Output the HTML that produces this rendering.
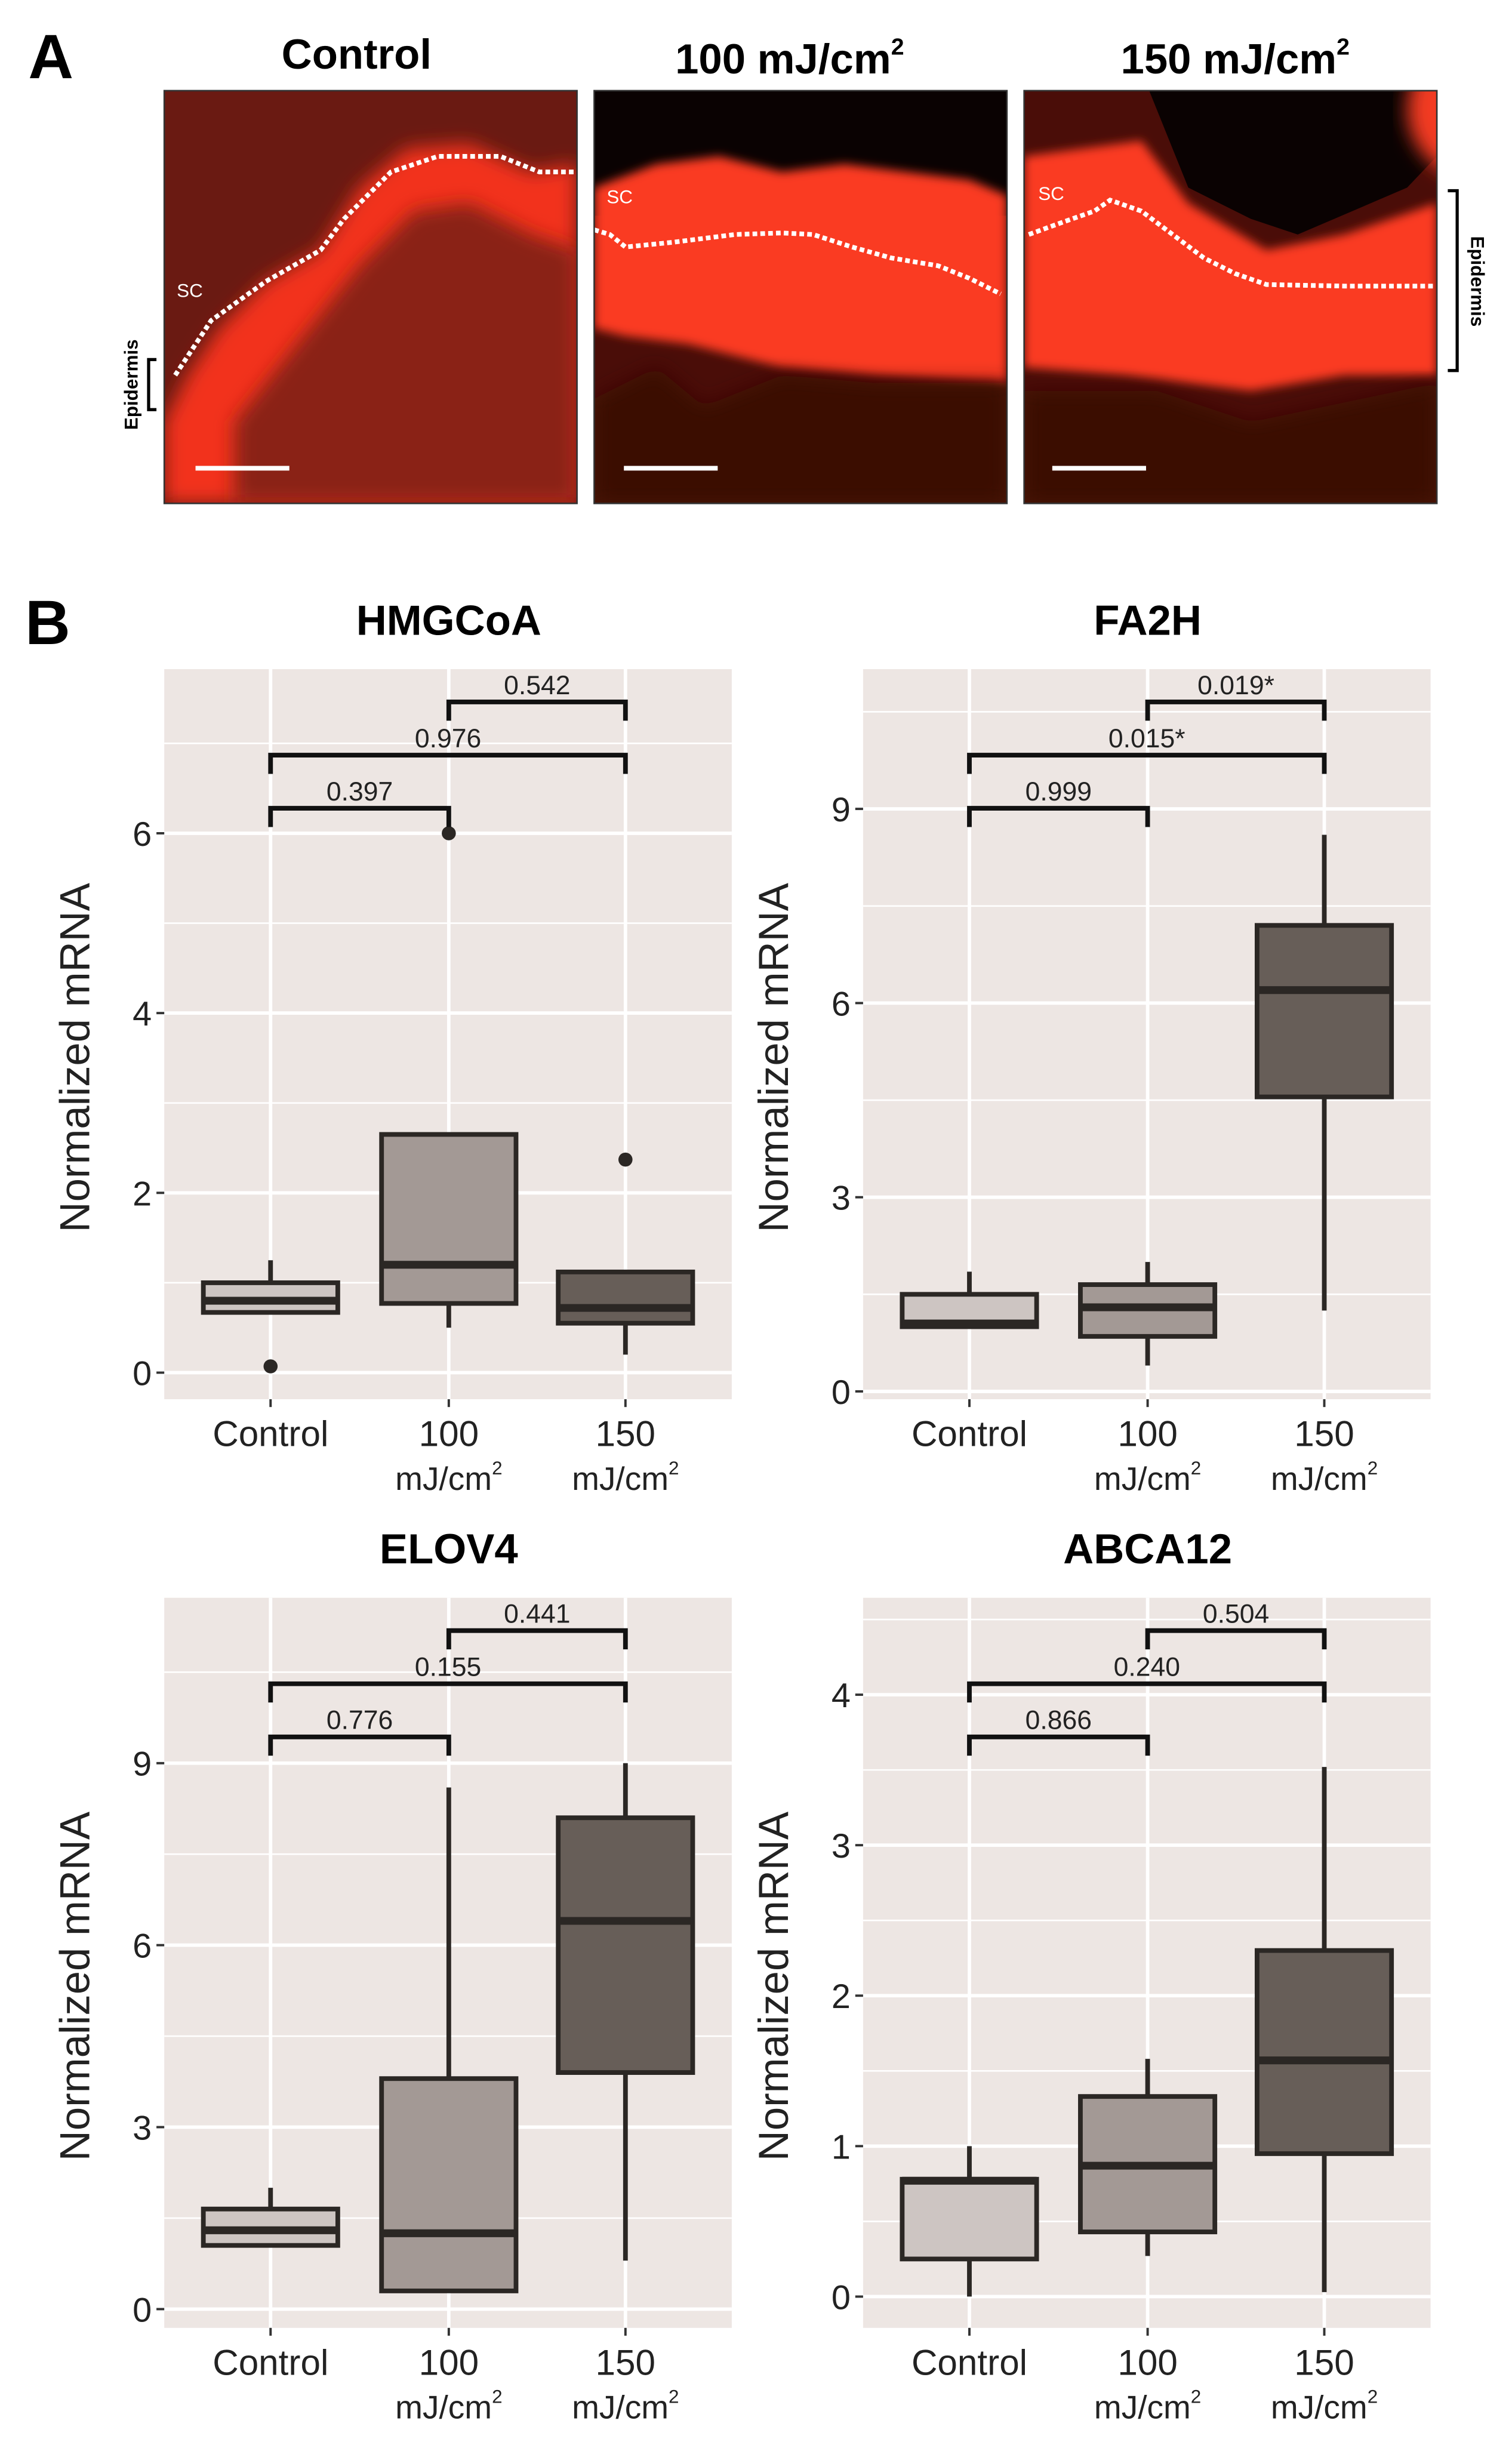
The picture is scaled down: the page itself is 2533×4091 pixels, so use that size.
<!DOCTYPE html>
<html><head><meta charset="utf-8">
<style>
html,body{margin:0;padding:0;background:#fff;}
svg{display:block;}
text{font-family:"Liberation Sans",Arial,sans-serif;}
</style></head>
<body>
<svg id="fig" xmlns="http://www.w3.org/2000/svg" width="2533" height="4091" viewBox="0 0 967 1562">
<defs>
<filter id="blur3"><feGaussianBlur stdDeviation="3"/></filter>
<filter id="blur6"><feGaussianBlur stdDeviation="6"/></filter>
<clipPath id="c1"><rect x="105" y="58" width="264" height="264"/></clipPath>
<clipPath id="c2"><rect x="380" y="58" width="264" height="264"/></clipPath>
<clipPath id="c3"><rect x="655" y="58" width="264" height="264"/></clipPath>
</defs>
<g id="panelA">
<text x="18" y="50" font-size="40" font-weight="bold">A</text>
<text x="228" y="44" font-size="27" font-weight="bold" text-anchor="middle">Control</text>
<text x="505" y="47" font-size="27" font-weight="bold" text-anchor="middle">100 mJ/cm<tspan font-size="15" dy="-12">2</tspan></text>
<text x="790" y="47" font-size="27" font-weight="bold" text-anchor="middle">150 mJ/cm<tspan font-size="15" dy="-12">2</tspan></text>

<g clip-path="url(#c1)">
<rect x="105" y="58" width="264" height="264" fill="#6a1a12"/>
<path d="M105,270 L120,240 L140,210 L170,180 L205,160 L230,120 L260,95 L300,92 L340,110 L369,105 L369,322 L105,322Z" fill="#f2331c" filter="url(#blur6)"/>
<path d="M150,270 L190,220 L230,170 L265,135 L300,130 L340,150 L369,160 L369,322 L150,322Z" fill="#8a2418" filter="url(#blur6)"/>
<path d="M112,240 L135,205 L170,180 L205,160 L220,140 L250,110 L280,100 L320,100 L345,110 L369,110" fill="none" stroke="#fff" stroke-width="3" stroke-dasharray="3,2"/>
<text x="113" y="190" font-size="12" fill="#fff">SC</text>
<rect x="125" y="298" width="60" height="3" fill="#fff"/>
</g>
<rect x="105" y="58" width="264" height="264" fill="none" stroke="#333" stroke-width="1"/>

<g clip-path="url(#c2)">
<rect x="380" y="58" width="264" height="264" fill="#4a0d08"/>
<rect x="380" y="58" width="264" height="80" fill="#0a0202"/>
<path d="M380,120 L420,105 L460,100 L500,110 L540,105 L580,110 L620,115 L644,125 L644,245 L560,240 L500,235 L440,220 L400,215 L380,210Z" fill="#fa3a22" filter="url(#blur3)"/>
<path d="M380,255 L420,235 L450,260 L500,240 L560,245 L644,245 L644,322 L380,322Z" fill="#3a0a06" filter="url(#blur6)"/>
<path d="M380,147 L390,150 L400,158 L430,155 L470,150 L500,149 L520,150 L545,158 L570,165 L600,170 L620,178 L640,188" fill="none" stroke="#fff" stroke-width="3" stroke-dasharray="3,2"/>
<text x="388" y="130" font-size="12" fill="#fff">SC</text>
<rect x="399" y="298" width="60" height="3" fill="#fff"/>
</g>
<rect x="380" y="58" width="264" height="264" fill="none" stroke="#333" stroke-width="1"/>

<g clip-path="url(#c3)">
<rect x="655" y="58" width="264" height="264" fill="#4a0d08"/>
<path d="M655,58 L735,58 L760,120 L800,140 L830,150 L900,120 L919,100 L919,58Z" fill="#0a0202"/>
<circle cx="945" cy="70" r="45" fill="#f23a22" filter="url(#blur6)"/>
<path d="M655,100 L730,90 L760,130 L810,160 L860,150 L919,130 L919,240 L860,240 L800,250 L720,240 L655,235Z" fill="#fa3a22" filter="url(#blur3)"/>
<path d="M655,250 L740,250 L800,270 L919,245 L919,322 L655,322Z" fill="#3a0a06" filter="url(#blur6)"/>
<path d="M658,150 L680,142 L700,135 L710,128 L730,135 L750,150 L770,165 L790,175 L810,182 L860,183 L917,183" fill="none" stroke="#fff" stroke-width="3" stroke-dasharray="3,2"/>
<text x="664" y="128" font-size="12" fill="#fff">SC</text>
<rect x="673" y="298" width="60" height="3" fill="#fff"/>
</g>
<rect x="655" y="58" width="264" height="264" fill="none" stroke="#333" stroke-width="1"/>

<g>
<path d="M100,230 L95,230 L95,262 L100,262" fill="none" stroke="#000" stroke-width="2"/>
<text x="88" y="246" font-size="12" font-weight="bold" text-anchor="middle" transform="rotate(-90 88 246)">Epidermis</text>
</g>
<g>
<path d="M926,122 L932,122 L932,237 L926,237" fill="none" stroke="#000" stroke-width="2"/>
<text x="941" y="180" font-size="12" font-weight="bold" text-anchor="middle" transform="rotate(90 941 180)">Epidermis</text>
</g>
</g>

<text x="16" y="412" font-size="40" font-weight="bold">B</text>
<g id="charts"></g>
</svg>
<script>
const categories = ["Control", "100", "150"];
const groupFills = ["#cdc5c2", "#a39995", "#675e58"];

const hmgcoaLow = [0.65, 0.5, 0.2];
const hmgcoaQ1 = [0.67, 0.77, 0.55];
const hmgcoaMed = [0.8, 1.2, 0.72];
const hmgcoaQ3 = [1.0, 2.65, 1.12];
const hmgcoaHigh = [1.25, 2.65, 1.12];
const hmgcoaOutliers = [[0.07], [6.0], [2.37]];
const hmgcoaTicks = [0, 2, 4, 6];
const hmgcoaPvals = ["0.397", "0.976", "0.542"];

const fa2hLow = [1.0, 0.4, 1.25];
const fa2hQ1 = [1.0, 0.85, 4.55];
const fa2hMed = [1.05, 1.3, 6.2];
const fa2hQ3 = [1.5, 1.65, 7.2];
const fa2hHigh = [1.85, 2.0, 8.6];
const fa2hOutliers = [[], [], []];
const fa2hTicks = [0, 3, 6, 9];
const fa2hPvals = ["0.999", "0.015*", "0.019*"];

const elov4Low = [1.05, 0.3, 0.8];
const elov4Q1 = [1.05, 0.3, 3.9];
const elov4Med = [1.3, 1.25, 6.4];
const elov4Q3 = [1.65, 3.8, 8.1];
const elov4High = [2.0, 8.6, 9.0];
const elov4Outliers = [[], [], []];
const elov4Ticks = [0, 3, 6, 9];
const elov4Pvals = ["0.776", "0.155", "0.441"];

const abca12Low = [0, 0.27, 0.03];
const abca12Q1 = [0.25, 0.43, 0.95];
const abca12Med = [0.77, 0.87, 1.57];
const abca12Q3 = [0.78, 1.33, 2.3];
const abca12High = [1.0, 1.58, 3.52];
const abca12Outliers = [[], [], []];
const abca12Ticks = [0, 1, 2, 3, 4];
const abca12Pvals = ["0.866", "0.240", "0.504"];

const NS = "http://www.w3.org/2000/svg";
const root = document.getElementById("charts");
function mk(tag, attrs, parent) {
  const e = document.createElementNS(NS, tag);
  for (const k in attrs) e.setAttribute(k, attrs[k]);
  parent.appendChild(e);
  return e;
}

function drawChart(o) {
  const g = mk("g", {}, root);
  
  
  const L = o.x0, R = o.x0 + 363, T = o.y0, B = o.y0 + 467;
  const y = v => o.zeroY - (v - 0) * o.unit;
  const xc = [L + 68, L + 182, L + 295];
  const bg = mk("rect", {x: L, y: T, width: R - L, height: B - T, fill: "#ede6e3"}, g);
  
  
  const step = o.ticks[1] - o.ticks[0];
  for (let v = o.ticks[0] + step / 2; y(v) > T; v += step) {
    mk("line", {x1: L, x2: R, y1: y(v), y2: y(v), stroke: "#fff", "stroke-width": 1}, g);
  }
  o.ticks.forEach(t => {
    const gl = mk("line", {x1: L, x2: R, y1: y(t), y2: y(t), stroke: "#fff", "stroke-width": 2.2}, g);
    
    
    mk("line", {x1: L - 5, x2: L, y1: y(t), y2: y(t), stroke: "#333", "stroke-width": 1.5}, g);
    const tl = mk("text", {x: L - 8, y: y(t) + 8, "font-size": 22, "text-anchor": "end", fill: "#222"}, g);
    tl.textContent = t;
    
    
  });
  xc.forEach((x, i) => {
    mk("line", {x1: x, x2: x, y1: T, y2: B, stroke: "#fff", "stroke-width": 2.2}, g);
    mk("line", {x1: x, x2: x, y1: B, y2: B + 5, stroke: "#333", "stroke-width": 1.5}, g);
    const t1 = mk("text", {x: x, y: B + 30, "font-size": 23, "text-anchor": "middle", fill: "#222"}, g);
    t1.textContent = categories[i];
    
    
    if (i > 0) {
      const t2 = mk("text", {x: x, y: B + 58, "font-size": 21, "text-anchor": "middle", fill: "#222"}, g);
      t2.innerHTML = 'mJ/cm<tspan font-size="12" dy="-10">2</tspan>';
      
      
    }
  });
  // boxes
  xc.forEach((x, i) => {
    const bx = mk("g", {}, g);
    
    
    mk("line", {x1: x, x2: x, y1: y(o.low[i]), y2: y(o.high[i]), stroke: "#2b2724", "stroke-width": 3}, bx);
    mk("rect", {x: x - 43, y: y(o.q3[i]), width: 86, height: y(o.q1[i]) - y(o.q3[i]), fill: groupFills[i], stroke: "#2b2724", "stroke-width": 3}, bx);
    mk("line", {x1: x - 43, x2: x + 43, y1: y(o.med[i]), y2: y(o.med[i]), stroke: "#2b2724", "stroke-width": 5}, bx);
    o.out[i].forEach(v => {
      const c = mk("circle", {cx: x, cy: y(v), r: 4.5, fill: "#2b2724"}, bx);
      
      
    });
  });
  // brackets
  const br = [[0, 1, 0], [0, 2, 1], [1, 2, 2]];
  br.forEach(b => {
    const by = T + 89 - b[2] * 34;
    const bg2 = mk("g", {}, g);
    
    
    mk("path", {d: `M${xc[b[0]]},${by + 12} L${xc[b[0]]},${by} L${xc[b[1]]},${by} L${xc[b[1]]},${by + 12}`, fill: "none", stroke: "#111", "stroke-width": 3}, bg2);
    const pt = mk("text", {x: (xc[b[0]] + xc[b[1]]) / 2, y: by - 5, "font-size": 17, "text-anchor": "middle", fill: "#222"}, bg2);
    pt.textContent = o.pvals[b[2]];
  });
  const ti = mk("text", {x: L + 182, y: T - 22, "font-size": 27, "font-weight": "bold", "text-anchor": "middle"}, g);
  ti.textContent = o.title;
  
  
  const yl = mk("text", {x: L - 48, y: (T + B) / 2 + 15, "font-size": 27, "text-anchor": "middle", fill: "#222", transform: `rotate(-90 ${L - 48} ${(T + B) / 2 + 15})`}, g);
  yl.textContent = "Normalized mRNA";
  
  
}

drawChart({key: "hmgcoa", title: "HMGCoA", x0: 105, y0: 428, zeroY: 878, unit: 57.5, ticks: hmgcoaTicks,
  low: hmgcoaLow, q1: hmgcoaQ1, med: hmgcoaMed, q3: hmgcoaQ3, high: hmgcoaHigh, out: hmgcoaOutliers, pvals: hmgcoaPvals});
drawChart({key: "fa2h", title: "FA2H", x0: 552, y0: 428, zeroY: 890, unit: 41.4, ticks: fa2hTicks,
  low: fa2hLow, q1: fa2hQ1, med: fa2hMed, q3: fa2hQ3, high: fa2hHigh, out: fa2hOutliers, pvals: fa2hPvals});
drawChart({key: "elov4", title: "ELOV4", x0: 105, y0: 1022, zeroY: 1477, unit: 38.8, ticks: elov4Ticks,
  low: elov4Low, q1: elov4Q1, med: elov4Med, q3: elov4Q3, high: elov4High, out: elov4Outliers, pvals: elov4Pvals});
drawChart({key: "abca12", title: "ABCA12", x0: 552, y0: 1022, zeroY: 1469, unit: 96.25, ticks: abca12Ticks,
  low: abca12Low, q1: abca12Q1, med: abca12Med, q3: abca12Q3, high: abca12High, out: abca12Outliers, pvals: abca12Pvals});
</script>
</body></html>
